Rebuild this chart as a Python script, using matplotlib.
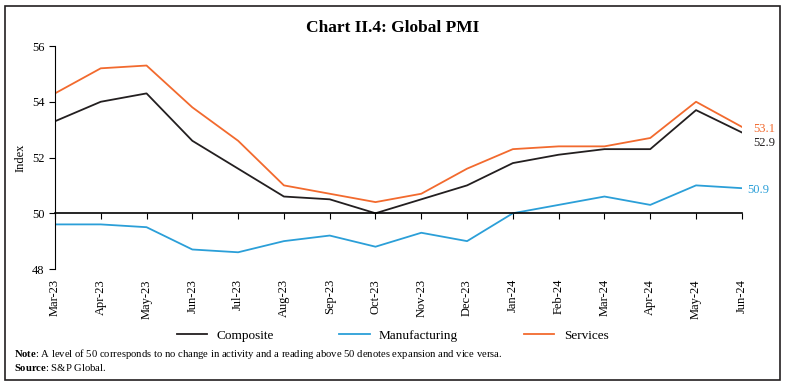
import matplotlib.pyplot as plt
from matplotlib.patches import Rectangle
import matplotlib.transforms as mtransforms

plt.rcParams['font.family'] = ['Liberation Serif', 'DejaVu Serif']
plt.rcParams['mathtext.fontset'] = 'custom'
plt.rcParams['mathtext.rm'] = 'Liberation Serif'
plt.rcParams['mathtext.bf'] = 'Liberation Serif:bold'

months = ["Mar-23", "Apr-23", "May-23", "Jun-23", "Jul-23", "Aug-23", "Sep-23", "Oct-23",
          "Nov-23", "Dec-23", "Jan-24", "Feb-24", "Mar-24", "Apr-24", "May-24", "Jun-24"]
composite = [53.3, 54.0, 54.3, 52.6, 51.6, 50.6, 50.5, 50.0, 50.5, 51.0, 51.8, 52.1, 52.3, 52.3, 53.7, 52.9]
manufacturing = [49.6, 49.6, 49.5, 48.7, 48.6, 49.0, 49.2, 48.8, 49.3, 49.0, 50.0, 50.3, 50.6, 50.3, 51.0, 50.9]
services = [54.3, 55.2, 55.3, 53.8, 52.6, 51.0, 50.7, 50.4, 50.7, 51.6, 52.3, 52.4, 52.4, 52.7, 54.0, 53.1]

c_comp = "#231f20"
c_manu = "#2b9fd8"
c_serv = "#f26a2e"

fig = plt.figure(figsize=(7.85, 3.88), dpi=100)
ax = fig.add_axes([0.070, 0.3067, 0.875, 0.5747])

x = list(range(len(months)))
ax.plot(x, composite, color=c_comp, lw=1.3, label="Composite")
ax.plot(x, manufacturing, color=c_manu, lw=1.3, label="Manufacturing")
ax.plot(x, services, color=c_serv, lw=1.3, label="Services")

ax.set_xlim(0, len(months) - 1)
ax.set_ylim(48, 56)
ax.set_yticks([48, 50, 52, 54, 56])
ax.tick_params(axis='y', labelsize=9, length=4, direction='out')
ax.set_ylabel("Index", fontsize=9, labelpad=4)

ax.spines['top'].set_visible(False)
ax.spines['right'].set_visible(False)
ax.spines['bottom'].set_position(('data', 50))
ax.spines['bottom'].set_linewidth(1.2)
ax.set_xticks(x)
ax.tick_params(axis='x', labelbottom=False, length=4, direction='out')

trans = mtransforms.blended_transform_factory(ax.transData, ax.transAxes)
for i, m in enumerate(months):
    ax.text(i, -0.045, m, transform=trans, rotation=90, ha='center', va='top', fontsize=9)

last = len(months) - 1
ax.text(last + 0.25, services[-1] - 0.08, f"{services[-1]:.1f}", color=c_serv, fontsize=9, va='center')
ax.text(last + 0.25, composite[-1] - 0.38, f"{composite[-1]:.1f}", color=c_comp, fontsize=9, va='center')
ax.text(last + 0.12, manufacturing[-1] - 0.08, f"{manufacturing[-1]:.1f}", color=c_manu, fontsize=9, va='center')

fig.legend(loc='center', bbox_to_anchor=(0.5, 0.135), ncol=3, frameon=False, fontsize=9.5,
           handlelength=2.3, columnspacing=5.0, handletextpad=0.7)

fig.text(0.5, 0.928, "Chart II.4: Global PMI", ha='center', va='center', fontsize=12.5, fontweight='bold')
fig.text(0.018, 0.088, r"$\bf{Note}$: A level of 50 corresponds to no change in activity and a reading above 50 denotes expansion and vice versa.",
         fontsize=7.7, va='center')
fig.text(0.018, 0.052, r"$\bf{Source}$: S&P Global.", fontsize=7.7, va='center')

fig.add_artist(Rectangle((0.007, 0.02), 0.986, 0.965, transform=fig.transFigure,
                         fill=False, edgecolor='#231f20', lw=1.2))

fig.savefig("out.png", dpi=100)
